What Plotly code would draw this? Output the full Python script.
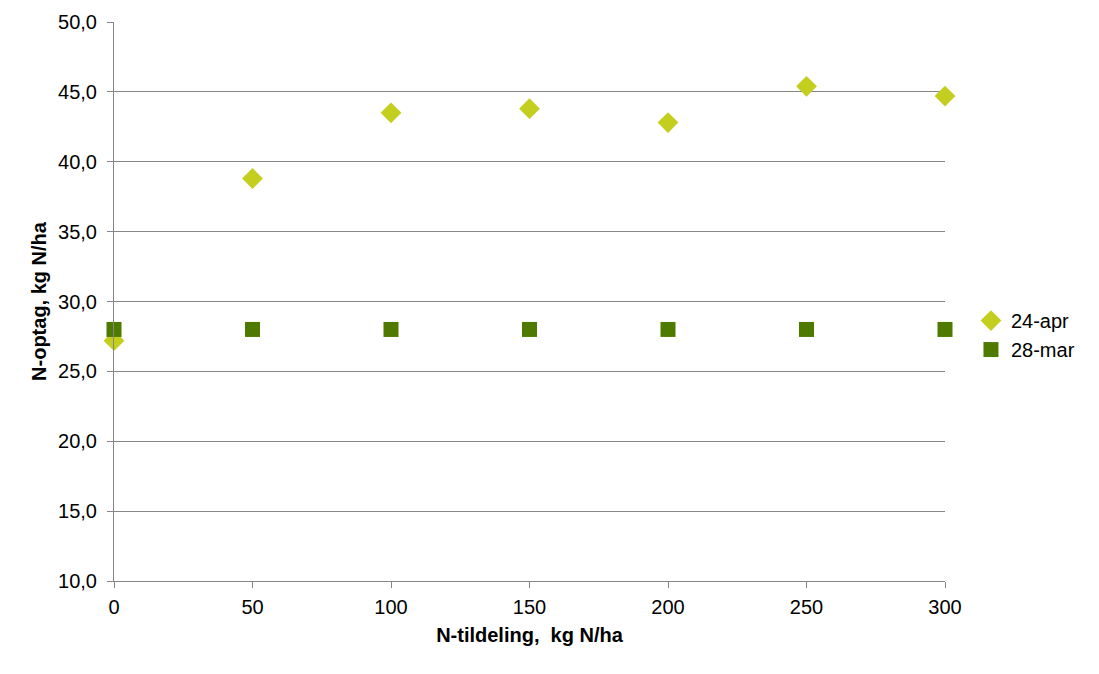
import plotly.graph_objects as go

x_vals = [0, 50, 100, 150, 200, 250, 300]
apr24 = [27.2, 38.8, 43.5, 43.8, 42.8, 45.4, 44.7]
mar28 = [28.0, 28.0, 28.0, 28.0, 28.0, 28.0, 28.0]
y_ticks = [10, 15, 20, 25, 30, 35, 40, 45, 50]
y_tick_text = [f"{v:.1f}".replace(".", ",") for v in y_ticks]
x_ticks = [0, 50, 100, 150, 200, 250, 300]

font_family = "Liberation Sans, Arial, sans-serif"

fig = go.Figure()
fig.add_trace(go.Scatter(
    x=x_vals, y=apr24, mode="markers", name="24-apr",
    marker=dict(symbol="diamond", size=16, color="#C4CE1F"),
    cliponaxis=False,
))
fig.add_trace(go.Scatter(
    x=x_vals, y=mar28, mode="markers", name="28-mar",
    marker=dict(symbol="square", size=15, color="#4E7A00"),
    cliponaxis=False,
))

fig.update_layout(
    width=1083, height=658,
    paper_bgcolor="white", plot_bgcolor="white",
    margin=dict(l=106, r=145, t=14, b=85),
    font=dict(family=font_family, size=20, color="black"),
    showlegend=True,
    legend=dict(x=1.03, y=0.44, xanchor="left", yanchor="middle",
                font=dict(size=20), itemwidth=30, tracegroupgap=0,
                bgcolor="rgba(0,0,0,0)"),
    xaxis=dict(
        range=[0, 300], tickvals=x_ticks, showgrid=False, zeroline=False,
        showline=True, linecolor="#868686", linewidth=1,
        ticks="outside", ticklen=6, tickcolor="#868686",
        tickfont=dict(size=20), ticklabelstandoff=2, automargin=False,
        title=dict(text="<b>N-tildeling,  kg N/ha</b>", font=dict(size=20), standoff=10),
    ),
    yaxis=dict(
        range=[10, 50], tickvals=y_ticks, ticktext=y_tick_text,
        showgrid=True, gridcolor="#868686", gridwidth=1, zeroline=False,
        showline=True, linecolor="#868686", linewidth=1,
        ticks="outside", ticklen=6, tickcolor="#868686",
        tickfont=dict(size=20), ticklabelstandoff=6, automargin=False,
        title=dict(text="<b>N-optag, kg N/ha</b>", font=dict(size=20), standoff=6),
    ),
)

fig.write_html("out.html")
